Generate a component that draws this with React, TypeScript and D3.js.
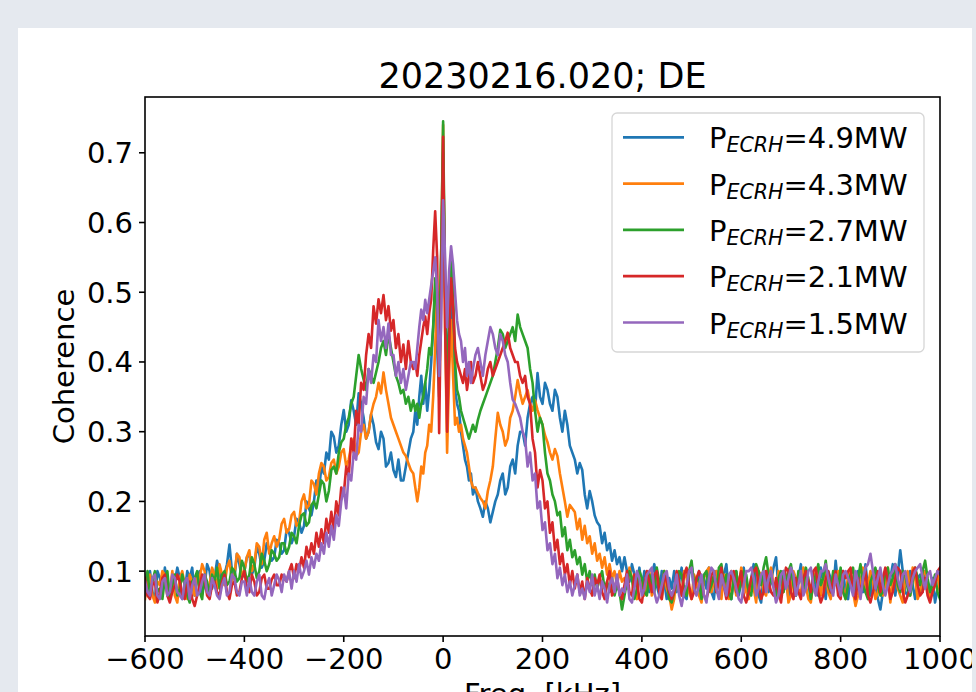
import React from "react";
import * as d3 from "d3";

// Frequency grid [kHz]: wings every 5 kHz, core every 4 kHz
const freqs: number[] = [
  ...d3.range(-600, -60, 5),
  ...d3.range(-60, 61, 4),
  ...d3.range(65, 1001, 5),
];

const xTicks = [-600, -400, -200, 0, 200, 400, 600, 800, 1000];
const yTicks = [0.1, 0.2, 0.3, 0.4, 0.5, 0.6, 0.7];

const labels = ["4.9MW", "4.3MW", "2.7MW", "2.1MW", "1.5MW"];
const colors = ["#1f77b4", "#ff7f0e", "#2ca02c", "#d62728", "#9467bd"];

// ---- P=4.9MW ----
const blueLeft = [
  0.065,0.095,0.1,0.07,0.06,0.1,0.09,0.07,0.105,0.08,
  0.06,0.095,0.085,0.105,0.09,0.06,0.07,0.1,0.09,0.105,
  0.065,0.09,0.1,0.07,0.08,0.11,0.1,0.075,0.09,0.115,
  0.1,0.08,0.095,0.11,0.138,0.1,0.09,0.125,0.11,0.09,
  0.10,0.12,0.125,0.095,0.105,0.135,0.125,0.105,0.115,0.14,
  0.13,0.115,0.12,0.145,0.14,0.125,0.13,0.16,0.155,0.14,
  0.15,0.175,0.17,0.155,0.165,0.2,0.19,0.18,0.2,0.23,
  0.215,0.25,0.24,0.27,0.26,0.3,0.293,0.27,0.28,0.31,
  0.331,0.3,0.31,0.345,0.33,0.31,0.355,0.34,0.32,0.29,
  0.30,0.325,0.31,0.285,0.275,0.3,0.29,0.25,0.255,0.27,
  0.245,0.235,0.26,0.23,0.23,0.25,0.27,0.29,
];
const blueCore = [
  0.30,0.33,0.31,0.35,0.38,0.34,0.37,0.33,0.36,0.40,
  0.45,0.50,0.42,0.35,0.55,0.70,0.50,0.38,0.45,0.50,
  0.42,0.36,0.34,0.33,0.30,0.28,0.26,0.25,0.23,0.24,
  0.21,
];
const blueRight = [
  0.22,0.20,0.19,0.178,0.2,0.19,0.17,0.185,0.2,0.21,
  0.23,0.24,0.21,0.22,0.25,0.26,0.24,0.28,0.3,0.30,
  0.28,0.32,0.34,0.35,0.33,0.384,0.35,0.34,0.37,0.36,
  0.34,0.33,0.36,0.35,0.32,0.30,0.33,0.31,0.28,0.27,
  0.26,0.24,0.255,0.245,0.21,0.19,0.215,0.20,0.18,0.17,
  0.165,0.14,0.155,0.13,0.14,0.115,0.13,0.11,0.12,0.1,
  0.12,0.10,0.085,0.11,0.095,0.08,0.105,0.075,0.1,0.09,
  0.07,0.095,0.11,0.08,0.065,0.1,0.085,0.06,0.09,0.075,
  0.1,0.07,0.085,0.105,0.065,0.06,0.095,0.11,0.07,0.08,
  0.1,0.065,0.09,0.075,0.105,0.07,0.06,0.1,0.085,0.07,
  0.095,0.11,0.07,0.06,0.09,0.1,0.065,0.085,0.105,0.075,
  0.065,0.09,0.11,0.08,0.065,0.055,0.095,0.1,0.07,0.085,
  0.105,0.12,0.075,0.065,0.1,0.09,0.06,0.105,0.08,0.065,
  0.09,0.11,0.07,0.1,0.085,0.06,0.095,0.075,0.065,0.105,
  0.085,0.06,0.1,0.09,0.07,0.115,0.08,0.065,0.1,0.07,
  0.06,0.095,0.085,0.065,0.1,0.08,0.07,0.11,0.075,0.065,
  0.1,0.08,0.06,0.045,0.07,0.1,0.075,0.09,0.11,0.065,
  0.095,0.13,0.1,0.07,0.065,0.1,0.08,0.06,0.09,0.095,
  0.07,0.1,0.085,0.065,0.09,0.055,0.075,0.08,
];

// ---- P=4.3MW ----
const orangeLeft = [
  0.06,0.09,0.095,0.065,0.055,0.085,0.08,0.1,0.095,0.065,
  0.07,0.1,0.065,0.055,0.09,0.1,0.08,0.06,0.095,0.085,
  0.065,0.095,0.09,0.11,0.1,0.07,0.08,0.105,0.095,0.075,
  0.11,0.095,0.08,0.105,0.115,0.085,0.095,0.125,0.12,0.095,
  0.10,0.12,0.13,0.1,0.11,0.14,0.135,0.11,0.145,0.155,
  0.125,0.14,0.15,0.135,0.145,0.168,0.175,0.155,0.16,0.18,
  0.185,0.165,0.17,0.2,0.21,0.19,0.195,0.23,0.225,0.21,
  0.24,0.255,0.25,0.23,0.235,0.255,0.26,0.24,0.25,0.27,
  0.275,0.25,0.26,0.28,0.29,0.265,0.27,0.3,0.31,0.29,
  0.30,0.325,0.34,0.35,0.37,0.355,0.385,0.36,0.34,0.32,
  0.31,0.3,0.29,0.28,0.27,0.265,0.255,0.245,
];
const orangeCore = [
  0.24,0.22,0.20,0.22,0.25,0.24,0.27,0.28,0.31,0.30,
  0.35,0.42,0.50,0.45,0.55,0.74,0.45,0.27,0.38,0.46,
  0.38,0.31,0.32,0.30,0.31,0.29,0.28,0.27,0.25,0.23,
  0.22,
];
const orangeRight = [
  0.22,0.212,0.205,0.2,0.19,0.215,0.23,0.25,0.29,0.327,
  0.31,0.30,0.28,0.29,0.32,0.33,0.35,0.374,0.355,0.34,
  0.35,0.36,0.34,0.33,0.345,0.331,0.32,0.31,0.295,0.285,
  0.27,0.26,0.275,0.265,0.24,0.22,0.2,0.178,0.195,0.19,
  0.185,0.16,0.175,0.145,0.165,0.14,0.15,0.125,0.14,0.115,
  0.125,0.105,0.12,0.095,0.11,0.09,0.1,0.08,0.1,0.085,
  0.09,0.075,0.105,0.09,0.07,0.06,0.095,0.085,0.065,0.08,
  0.1,0.065,0.075,0.095,0.08,0.06,0.1,0.075,0.065,0.045,
  0.06,0.095,0.08,0.065,0.1,0.09,0.07,0.06,0.095,0.085,
  0.065,0.055,0.09,0.1,0.105,0.07,0.085,0.1,0.08,0.06,
  0.095,0.075,0.06,0.1,0.085,0.065,0.08,0.105,0.09,0.07,
  0.06,0.085,0.075,0.055,0.1,0.095,0.07,0.065,0.09,0.105,
  0.08,0.06,0.1,0.085,0.07,0.095,0.055,0.065,0.1,0.09,
  0.075,0.065,0.105,0.08,0.06,0.055,0.085,0.1,0.095,0.065,
  0.09,0.105,0.07,0.06,0.095,0.08,0.1,0.09,0.075,0.06,
  0.095,0.1,0.07,0.05,0.065,0.085,0.105,0.07,0.08,0.1,
  0.085,0.06,0.07,0.095,0.065,0.08,0.105,0.055,0.085,0.1,
  0.075,0.065,0.055,0.09,0.1,0.065,0.105,0.09,0.06,0.07,
  0.095,0.1,0.08,0.06,0.07,0.085,0.095,0.07,
];

// ---- P=2.7MW ----
const greenLeft = [
  0.08,0.1,0.065,0.085,0.1,0.07,0.075,0.06,0.09,0.1,
  0.06,0.08,0.095,0.065,0.075,0.095,0.08,0.065,0.055,0.085,
  0.09,0.1,0.07,0.06,0.095,0.085,0.065,0.095,0.085,0.105,
  0.075,0.095,0.1,0.08,0.085,0.105,0.10,0.085,0.09,0.115,
  0.105,0.085,0.095,0.12,0.11,0.09,0.10,0.125,0.115,0.1,
  0.11,0.13,0.125,0.115,0.12,0.14,0.14,0.125,0.135,0.155,
  0.15,0.14,0.165,0.18,0.183,0.165,0.17,0.195,0.2,0.19,
  0.21,0.23,0.225,0.2,0.215,0.245,0.25,0.24,0.27,0.285,
  0.29,0.31,0.32,0.34,0.35,0.38,0.41,0.39,0.375,0.36,
  0.39,0.38,0.37,0.385,0.40,0.42,0.43,0.41,0.44,0.42,
  0.40,0.38,0.37,0.355,0.36,0.34,0.35,0.33,
];
const greenCore = [
  0.345,0.33,0.34,0.32,0.34,0.35,0.37,0.39,0.42,0.41,
  0.45,0.52,0.48,0.42,0.55,0.745,0.50,0.35,0.45,0.55,
  0.50,0.40,0.36,0.35,0.33,0.32,0.31,0.30,0.29,0.30,
  0.31,
];
const greenRight = [
  0.30,0.317,0.33,0.34,0.35,0.36,0.37,0.38,0.40,0.42,
  0.446,0.44,0.42,0.43,0.44,0.45,0.43,0.468,0.45,0.44,
  0.43,0.42,0.39,0.37,0.33,0.30,0.32,0.31,0.27,0.24,
  0.23,0.21,0.2,0.18,0.185,0.15,0.163,0.13,0.145,0.12,
  0.13,0.11,0.12,0.095,0.11,0.085,0.1,0.08,0.095,0.075,
  0.09,0.1,0.075,0.085,0.07,0.09,0.065,0.08,0.07,0.045,
  0.065,0.085,0.1,0.09,0.06,0.075,0.1,0.09,0.07,0.065,
  0.095,0.08,0.07,0.105,0.085,0.065,0.1,0.09,0.06,0.055,
  0.07,0.085,0.1,0.095,0.075,0.065,0.1,0.115,0.08,0.09,
  0.085,0.06,0.095,0.1,0.07,0.08,0.095,0.07,0.105,0.11,
  0.08,0.095,0.07,0.06,0.09,0.1,0.07,0.085,0.1,0.095,
  0.07,0.065,0.095,0.11,0.1,0.08,0.105,0.12,0.095,0.085,
  0.08,0.065,0.09,0.1,0.07,0.085,0.1,0.11,0.08,0.065,
  0.1,0.09,0.075,0.105,0.09,0.06,0.08,0.095,0.11,0.08,
  0.09,0.115,0.08,0.07,0.1,0.09,0.075,0.105,0.07,0.06,
  0.08,0.095,0.105,0.075,0.09,0.11,0.08,0.07,0.06,0.085,
  0.095,0.105,0.08,0.065,0.07,0.1,0.105,0.08,0.09,0.11,
  0.08,0.07,0.1,0.095,0.075,0.065,0.085,0.105,0.09,0.08,
  0.1,0.115,0.09,0.07,0.08,0.095,0.07,0.06,
];

// ---- P=2.1MW ----
const redLeft = [
  0.09,0.065,0.06,0.08,0.085,0.055,0.07,0.09,0.095,0.065,
  0.055,0.07,0.08,0.095,0.085,0.065,0.06,0.08,0.085,0.06,
  0.05,0.065,0.08,0.095,0.09,0.065,0.06,0.08,0.085,0.07,
  0.065,0.085,0.095,0.07,0.06,0.08,0.085,0.065,0.07,0.09,
  0.1,0.075,0.07,0.095,0.085,0.065,0.07,0.09,0.095,0.075,
  0.075,0.088,0.095,0.08,0.08,0.095,0.09,0.085,0.1,0.11,
  0.09,0.11,0.1,0.12,0.105,0.135,0.12,0.14,0.125,0.155,
  0.135,0.16,0.14,0.175,0.155,0.185,0.16,0.2,0.18,0.22,
  0.21,0.25,0.235,0.29,0.27,0.33,0.31,0.37,0.36,0.41,
  0.44,0.42,0.48,0.455,0.49,0.47,0.496,0.46,0.48,0.445,
  0.46,0.42,0.44,0.40,0.425,0.39,0.43,0.40,
];
const redCore = [
  0.39,0.40,0.38,0.41,0.43,0.45,0.465,0.44,0.47,0.49,
  0.56,0.616,0.55,0.298,0.50,0.723,0.45,0.30,0.42,0.52,
  0.48,0.42,0.40,0.39,0.38,0.37,0.39,0.36,0.38,0.40,
  0.37,
];
const redRight = [
  0.38,0.40,0.38,0.36,0.37,0.39,0.40,0.38,0.39,0.40,
  0.41,0.42,0.43,0.442,0.42,0.41,0.40,0.40,0.38,0.37,
  0.38,0.35,0.34,0.29,0.27,0.22,0.245,0.23,0.19,0.2,
  0.155,0.17,0.13,0.145,0.11,0.125,0.095,0.11,0.08,0.1,
  0.075,0.095,0.07,0.085,0.06,0.09,0.075,0.065,0.09,0.08,
  0.095,0.07,0.06,0.085,0.1,0.065,0.075,0.09,0.07,0.06,
  0.08,0.1,0.07,0.065,0.095,0.085,0.06,0.055,0.08,0.1,
  0.085,0.07,0.095,0.1,0.07,0.06,0.095,0.085,0.07,0.06,
  0.07,0.1,0.085,0.065,0.095,0.105,0.08,0.06,0.07,0.09,
  0.1,0.09,0.065,0.06,0.075,0.095,0.1,0.07,0.085,0.105,
  0.08,0.06,0.07,0.095,0.1,0.07,0.085,0.1,0.065,0.055,
  0.07,0.09,0.1,0.105,0.08,0.06,0.07,0.1,0.085,0.07,
  0.065,0.09,0.07,0.055,0.085,0.105,0.1,0.07,0.06,0.09,
  0.07,0.06,0.09,0.1,0.085,0.07,0.1,0.105,0.07,0.055,
  0.065,0.09,0.1,0.07,0.085,0.1,0.065,0.06,0.1,0.09,
  0.1,0.105,0.07,0.06,0.09,0.07,0.085,0.1,0.065,0.055,
  0.07,0.085,0.1,0.07,0.09,0.105,0.085,0.06,0.07,0.09,
  0.105,0.1,0.07,0.055,0.065,0.075,0.1,0.105,0.08,0.065,
  0.07,0.09,0.065,0.055,0.07,0.08,0.1,0.105,
];

// ---- P=1.5MW ----
const purpleLeft = [
  0.085,0.07,0.065,0.09,0.095,0.065,0.06,0.085,0.09,0.065,
  0.07,0.095,0.09,0.07,0.065,0.06,0.085,0.09,0.06,0.08,
  0.09,0.065,0.07,0.085,0.095,0.07,0.065,0.09,0.08,0.065,
  0.06,0.08,0.09,0.065,0.07,0.095,0.09,0.07,0.065,0.085,
  0.085,0.065,0.09,0.07,0.065,0.085,0.095,0.065,0.06,0.08,
  0.09,0.065,0.08,0.095,0.087,0.07,0.095,0.085,0.1,0.075,
  0.1,0.085,0.11,0.09,0.1,0.115,0.095,0.12,0.105,0.125,
  0.115,0.14,0.125,0.155,0.135,0.165,0.145,0.18,0.165,0.2,
  0.22,0.19,0.24,0.23,0.27,0.26,0.31,0.3,0.35,0.34,
  0.39,0.37,0.41,0.4,0.46,0.43,0.45,0.42,0.455,0.41,
  0.41,0.38,0.4,0.37,0.39,0.36,0.38,0.4,
];
const purpleCore = [
  0.40,0.39,0.42,0.45,0.475,0.46,0.489,0.47,0.49,0.51,
  0.53,0.55,0.50,0.38,0.45,0.632,0.55,0.45,0.53,0.566,
  0.54,0.50,0.46,0.44,0.43,0.40,0.42,0.38,0.40,0.37,
  0.39,
];
const purpleRight = [
  0.41,0.42,0.40,0.38,0.41,0.43,0.45,0.44,0.42,0.41,
  0.44,0.43,0.41,0.40,0.37,0.346,0.34,0.33,0.32,0.30,
  0.29,0.25,0.27,0.23,0.24,0.19,0.2,0.159,0.17,0.13,
  0.14,0.11,0.125,0.09,0.105,0.08,0.095,0.07,0.085,0.065,
  0.08,0.095,0.065,0.075,0.06,0.085,0.07,0.095,0.065,0.08,
  0.06,0.085,0.075,0.055,0.08,0.09,0.07,0.095,0.065,0.075,
  0.07,0.095,0.06,0.055,0.075,0.1,0.09,0.065,0.075,0.095,
  0.1,0.105,0.07,0.055,0.065,0.08,0.095,0.1,0.075,0.065,
  0.075,0.095,0.065,0.05,0.07,0.08,0.1,0.105,0.075,0.065,
  0.08,0.095,0.065,0.055,0.09,0.105,0.1,0.075,0.06,0.095,
  0.08,0.065,0.095,0.1,0.09,0.075,0.06,0.055,0.08,0.1,
  0.1,0.105,0.09,0.065,0.075,0.095,0.1,0.07,0.09,0.1,
  0.075,0.055,0.065,0.095,0.1,0.075,0.09,0.105,0.095,0.065,
  0.08,0.1,0.065,0.075,0.1,0.105,0.08,0.065,0.085,0.1,
  0.1,0.11,0.09,0.075,0.065,0.095,0.08,0.065,0.095,0.1,
  0.09,0.08,0.065,0.1,0.085,0.06,0.09,0.105,0.11,0.125,
  0.1,0.075,0.09,0.105,0.08,0.065,0.08,0.095,0.1,0.11,
  0.09,0.075,0.095,0.1,0.08,0.07,0.09,0.1,0.105,0.11,
  0.09,0.075,0.095,0.1,0.08,0.09,0.1,0.095,
];

const seriesValues = [
  [...blueLeft, ...blueCore, ...blueRight],
  [...orangeLeft, ...orangeCore, ...orangeRight],
  [...greenLeft, ...greenCore, ...greenRight],
  [...redLeft, ...redCore, ...redRight],
  [...purpleLeft, ...purpleCore, ...purpleRight],
];

const W = 976;
const H = 692;
const L = 145, R = 940, T = 97, B = 636;
const FONT = "'DejaVu Sans', sans-serif";

export default function App() {
  const x = d3.scaleLinear().domain([-600, 1000]).range([L, R]);
  const y = d3.scaleLinear().domain([0.007, 0.78]).range([B, T]);
  const line = d3
    .line<[number, number]>()
    .x((d) => x(d[0]))
    .y((d) => y(d[1]));

  const fmtX = (v: number) => (v < 0 ? "\u2212" + Math.abs(v) : String(v));
  const fmtY = d3.format(".1f");

  return (
    <div style={{ position: "absolute", left: 0, top: 0, width: W, height: H, overflow: "hidden" }}>
      <svg width={W} height={H} style={{ display: "block" }} fontFamily={FONT}>
        <defs>
          <clipPath id="card">
            <rect x={18} y={28} width={954} height={700} />
          </clipPath>
          <clipPath id="plot">
            <rect x={L} y={T} width={R - L} height={B - T} />
          </clipPath>
        </defs>
        <rect x={0} y={0} width={W} height={H} fill="#e5e9ef" />
        <g clipPath="url(#card)">
          <rect x={18} y={28} width={954} height={700} fill="#ffffff" />
          <text x={(L + R) / 2} y={88} textAnchor="middle" fontSize={35} fill="#000">
            20230216.020; DE
          </text>
          <g clipPath="url(#plot)">
            {seriesValues.map((vals, i) => {
              const n = Math.min(vals.length, freqs.length);
              const pts: [number, number][] = [];
              for (let k = 0; k < n; k++) pts.push([freqs[k], vals[k]]);
              return (
                <path
                  key={i}
                  d={line(pts) || ""}
                  fill="none"
                  stroke={colors[i]}
                  strokeWidth={2.6}
                  strokeLinejoin="round"
                  strokeLinecap="square"
                />
              );
            })}
          </g>
          <rect x={L} y={T} width={R - L} height={B - T} fill="none" stroke="#000" strokeWidth={1.6} />
          {xTicks.map((t) => (
            <g key={"x" + t}>
              <line x1={x(t)} x2={x(t)} y1={B} y2={B + 6} stroke="#000" strokeWidth={1.6} />
              <text x={x(t)} y={669} textAnchor="middle" fontSize={29} fill="#000">
                {fmtX(t)}
              </text>
            </g>
          ))}
          {yTicks.map((t) => (
            <g key={"y" + t}>
              <line x1={L - 6} x2={L} y1={y(t)} y2={y(t)} stroke="#000" strokeWidth={1.6} />
              <text x={L - 12} y={y(t)} dy="0.36em" textAnchor="end" fontSize={29} fill="#000">
                {fmtY(t)}
              </text>
            </g>
          ))}
          <text x={(L + R) / 2} y={704} textAnchor="middle" fontSize={29} fill="#000">
            Freq. [kHz]
          </text>
          <text
            transform={`translate(74, ${(T + B) / 2}) rotate(-90)`}
            textAnchor="middle"
            fontSize={29}
            fill="#000"
          >
            Coherence
          </text>
          <rect x={612} y={113} width={312} height={239} rx={5} fill="#ffffff" fillOpacity={0.8} stroke="#d6d6d6" strokeWidth={1.3} />
          {labels.map((lab, i) => {
            const ly = 137.3 + i * 46.3;
            return (
              <g key={"l" + i}>
                <line x1={623} x2={684} y1={ly} y2={ly} stroke={colors[i]} strokeWidth={2.7} />
                <text x={709} y={ly + 11} fontSize={29} fill="#000">
                  P
                  <tspan fontSize={20.5} fontStyle="italic" dy={4}>ECRH</tspan>
                  <tspan dy={-4}>={lab}</tspan>
                </text>
              </g>
            );
          })}
        </g>
      </svg>
    </div>
  );
}
